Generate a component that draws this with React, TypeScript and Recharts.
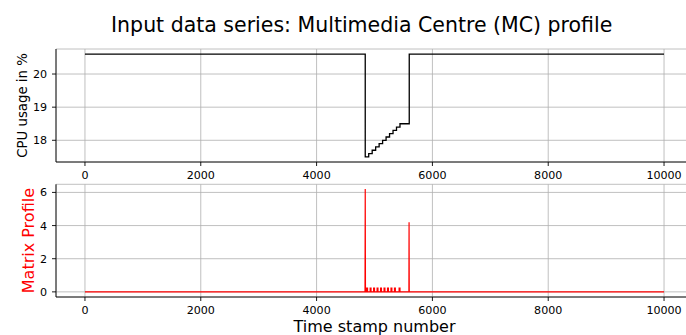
import React from 'react';
import { LineChart, Line, XAxis, YAxis, CartesianGrid } from 'recharts';

// Top panel: CPU usage (step function breakpoints)
const cpuTime = [0, 4840, 4900, 4960, 5020, 5080, 5140, 5200, 5260, 5320, 5380, 5440, 5600, 10000];
const cpuValue = [20.6, 17.5, 17.6, 17.7, 17.8, 17.9, 18.0, 18.1, 18.2, 18.3, 18.4, 18.5, 20.6, 20.6];

// Bottom panel: matrix profile (spikes)
const mpTime = [
  0, 4836, 4840, 4844,
  4865, 4865, 4880, 4880,
  4925, 4925, 4940, 4940,
  4985, 4985, 5000, 5000,
  5045, 5045, 5060, 5060,
  5105, 5105, 5120, 5120,
  5165, 5165, 5180, 5180,
  5225, 5225, 5240, 5240,
  5285, 5285, 5300, 5300,
  5345, 5345, 5360, 5360,
  5425, 5425, 5440, 5440,
  5594, 5597, 5600, 10000,
];
const mpValue = [
  0, 0, 6.2, 0,
  0, 0.22, 0.22, 0,
  0, 0.22, 0.22, 0,
  0, 0.22, 0.22, 0,
  0, 0.22, 0.22, 0,
  0, 0.22, 0.22, 0,
  0, 0.22, 0.22, 0,
  0, 0.22, 0.22, 0,
  0, 0.22, 0.22, 0,
  0, 0.22, 0.22, 0,
  0, 0.22, 0.22, 0,
  0, 4.2, 0, 0,
];

const xTicks = [0, 2000, 4000, 6000, 8000, 10000];
const cpuTicks = [18, 19, 20];
const mpTicks = [0, 2, 4, 6];

const title = 'Input data series: Multimedia Centre (MC) profile';
const cpuLabel = 'CPU usage in %';
const mpLabel = 'Matrix Profile';
const xLabel = 'Time stamp number';

const cpuData = cpuTime.map((t, i) => ({ t, v: cpuValue[i] }));
const mpData = mpTime.map((t, i) => ({ t, v: mpValue[i] }));

const FONT = 'DejaVu Sans';
const tickStyle = { fontSize: 11.1, fill: '#000', fontFamily: FONT };

export default function App() {
  return (
    <div
      style={{
        position: 'absolute',
        left: 0,
        top: 0,
        width: 686,
        height: 335,
        overflow: 'hidden',
        background: '#fff',
        fontFamily: FONT,
      }}
    >
      <div style={{ position: 'absolute', left: 0, top: 0 }}>
        <LineChart width={700} height={185} data={cpuData} margin={{ top: 49, right: 7, left: 0, bottom: 0 }}>
          <CartesianGrid stroke="#b0b0b0" strokeWidth={0.8} />
          <XAxis
            dataKey="t"
            type="number"
            domain={[-500, 10500]}
            ticks={xTicks}
            height={23}
            tickSize={4}
            tickMargin={5}
            tick={tickStyle}
            stroke="#000"
            strokeWidth={0.9}
            allowDataOverflow
          />
          <XAxis
            xAxisId="top"
            orientation="top"
            dataKey="t"
            type="number"
            domain={[-500, 10500]}
            height={0}
            tick={false}
            tickLine={false}
            stroke="#000"
            strokeWidth={0.9}
          />
          <YAxis
            type="number"
            domain={[17.345, 20.755]}
            ticks={cpuTicks}
            width={56}
            tickSize={4}
            tickMargin={5}
            tick={tickStyle}
            stroke="#000"
            strokeWidth={0.9}
            allowDataOverflow
          />
          <Line
            type="stepAfter"
            dataKey="v"
            stroke="#000"
            strokeWidth={1.3}
            dot={false}
            isAnimationActive={false}
          />
        </LineChart>
      </div>
      <div style={{ position: 'absolute', left: 0, top: 160 }}>
        <LineChart width={700} height={175} data={mpData} margin={{ top: 24.3, right: 7, left: 0, bottom: 0 }}>
          <CartesianGrid stroke="#b0b0b0" strokeWidth={0.8} />
          <XAxis
            dataKey="t"
            type="number"
            domain={[-500, 10500]}
            ticks={xTicks}
            height={38}
            tickSize={4}
            tickMargin={5}
            tick={tickStyle}
            stroke="#000"
            strokeWidth={0.9}
            allowDataOverflow
          />
          <XAxis
            xAxisId="top"
            orientation="top"
            dataKey="t"
            type="number"
            domain={[-500, 10500]}
            height={0}
            tick={false}
            tickLine={false}
            stroke="#000"
            strokeWidth={0.9}
          />
          <YAxis
            type="number"
            domain={[-0.31, 6.49]}
            ticks={mpTicks}
            width={56}
            tickSize={4}
            tickMargin={5}
            tick={tickStyle}
            stroke="#000"
            strokeWidth={0.9}
            allowDataOverflow
          />
          <Line
            type="linear"
            dataKey="v"
            stroke="#ff0000"
            strokeWidth={1.2}
            dot={false}
            isAnimationActive={false}
          />
        </LineChart>
      </div>
      <svg
        width={686}
        height={335}
        style={{ position: 'absolute', left: 0, top: 0, pointerEvents: 'none' }}
      >
        <text x={361.7} y={31.5} textAnchor="middle" fontSize={20.5} fontFamily={FONT} fill="#000">
          {title}
        </text>
        <text
          transform="translate(22.5,105.5) rotate(-90)"
          textAnchor="middle"
          dominantBaseline="central"
          fontSize={13.3}
          fontFamily={FONT}
          fill="#000"
        >
          {cpuLabel}
        </text>
        <text
          transform="translate(28,240.6) rotate(-90)"
          textAnchor="middle"
          dominantBaseline="central"
          fontSize={16}
          fontFamily={FONT}
          fill="#ff0000"
        >
          {mpLabel}
        </text>
        <text x={374.5} y={331.5} textAnchor="middle" fontSize={16} fontFamily={FONT} fill="#000">
          {xLabel}
        </text>
      </svg>
    </div>
  );
}
